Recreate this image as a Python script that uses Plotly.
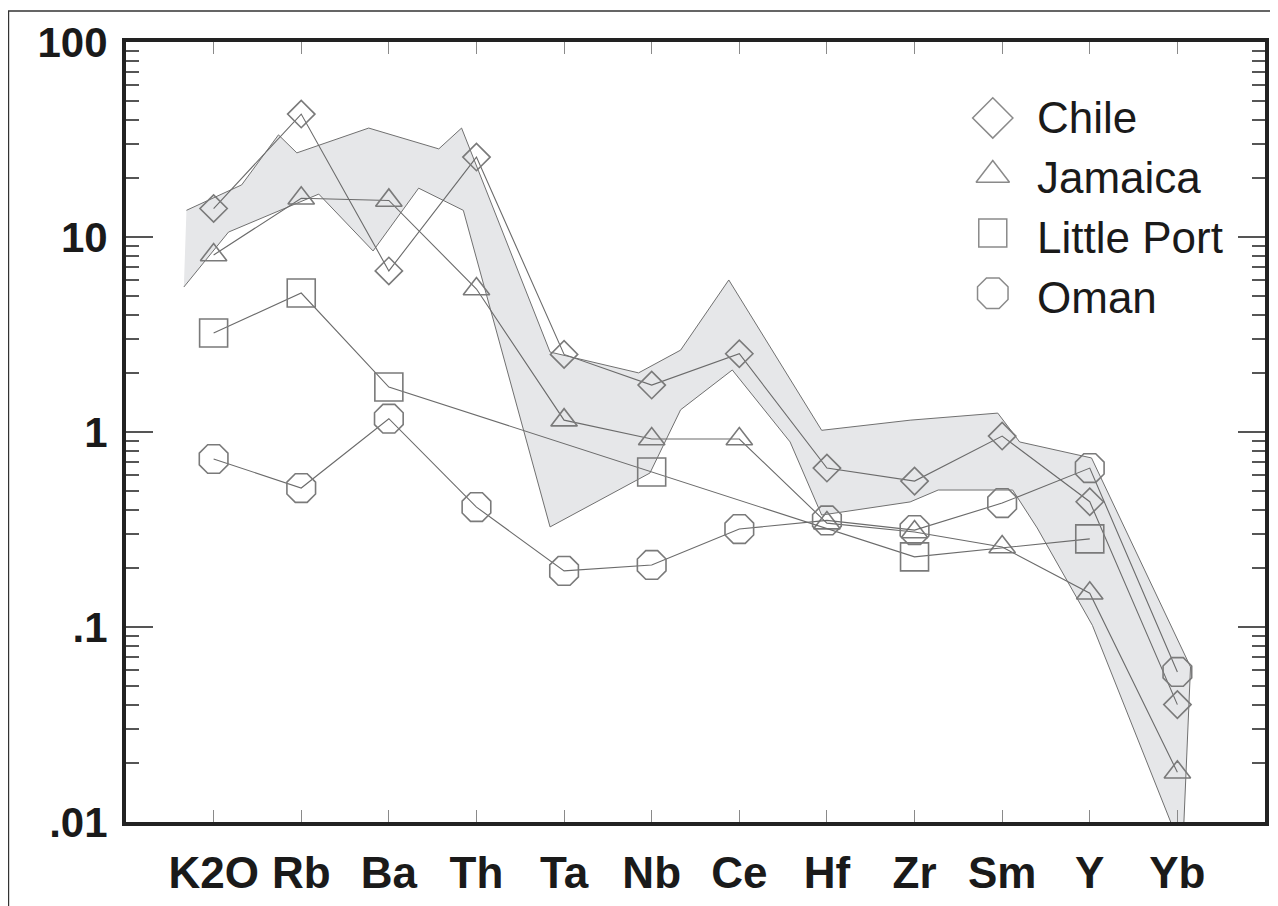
import plotly.graph_objects as go

# element order on the x axis
elements = ["K2O", "Rb", "Ba", "Th", "Ta", "Nb", "Ce", "Hf", "Zr", "Sm", "Y", "Yb"]

# normalised abundances (None = not plotted)
chile = [14.0, 42.7, 6.7, 25.7, 2.5, 1.74, 2.52, 0.653, 0.56, 0.953, 0.439, 0.040]
jamaica = [8.09, 15.8, 15.4, 5.41, 1.15, 0.92, 0.92, 0.341, 0.307, 0.257, 0.149, 0.018]
little_port = [3.22, 5.16, 1.70, None, None, 0.624, None, None, 0.229, None, 0.283, None]
oman = [0.727, 0.516, 1.17, 0.412, 0.194, 0.208, 0.318, 0.352, 0.314, 0.432, 0.653, 0.0588]

# shaded field: upper edge left->right, lower edge right->left (x in element units)
env_upper_pos = [-0.31, 0.32, 0.74, 0.95, 1.77, 2.57, 2.83, 3.84, 4.85, 5.33, 5.88,
                 6.94, 7.95, 8.95, 9.20, 10.02, 11.15, 11.06]
env_upper_val = [13.7, 18.5, 33.4, 27.0, 36.2, 28.3, 36.2, 2.57, 2.01, 2.63, 6.02,
                 1.02, 1.15, 1.25, 0.889, 0.736, 0.0624, 0.00702]
env_lower_pos = [10.03, 9.40, 9.12, 8.27, 7.95, 6.94, 6.58, 5.92, 5.33, 4.98, 3.84,
                 2.85, 2.34, 1.82, 1.20, 0.17, -0.34]
env_lower_val = [0.102, 0.322, 0.504, 0.504, 0.438, 0.375, 0.889, 2.08, 1.30, 0.616, 0.326,
                 13.7, 17.8, 8.48, 16.6, 10.6, 5.54]

y_tickvals = [0.01, 0.1, 1, 10, 100]
y_ticktext = [".01", ".1", "1", "10", "100"]

series = [
    ("Chile", chile, "diamond-open", 21, 31),
    ("Jamaica", jamaica, "triangle-up-open", 23, 29),
    ("Little Port", little_port, "square-open", 28, 28),
    ("Oman", oman, "octagon-open", 31, 33),
]

LINE = "#6b6b6b"
MARK = "#7a7a7a"
FONT = "Liberation Sans, Arial, sans-serif"

fig = go.Figure()

fig.add_trace(go.Scatter(
    x=env_upper_pos + env_lower_pos,
    y=env_upper_val + env_lower_val,
    mode="lines", fill="toself",
    fillcolor="#e6e7e9",
    line=dict(color="#707070", width=1),
    showlegend=False, hoverinfo="skip"))

xpos = list(range(len(elements)))
for name, vals, sym, size, _ in series:
    fig.add_trace(go.Scatter(
        x=xpos, y=vals, name=name, mode="lines+markers",
        connectgaps=True,
        line=dict(color=LINE, width=1.1),
        marker=dict(symbol=sym, size=size, color=MARK, line=dict(width=1.6)),
        showlegend=False))

# hand-drawn key (overlay axes 0..1 across the plot area)
key_sym_x = 0.761
key_txt_x = 0.798
key_sym_y = [0.9026, 0.8295, 0.755, 0.678]
key_txt_y = [0.9026, 0.826, 0.749, 0.672]
for i, (name, vals, sym, size, ksize) in enumerate(series):
    fig.add_trace(go.Scatter(
        x=[key_sym_x], y=[key_sym_y[i]], xaxis="x2", yaxis="y2",
        mode="markers", showlegend=False, hoverinfo="skip",
        marker=dict(symbol=sym, size=ksize, color="#8a8a8a", line=dict(width=1.5))))
    fig.add_annotation(
        x=key_txt_x, y=key_txt_y[i], xref="paper", yref="paper",
        text=name, showarrow=False, xanchor="left", yanchor="middle",
        font=dict(family=FONT, size=44, color="#1a1a1a"))

# page body adds an 8px margin, so the figure is 8px smaller than the window
fig.update_layout(
    width=1270, height=898,
    margin=dict(l=118, r=13, t=34, b=84, autoexpand=False),
    paper_bgcolor="white", plot_bgcolor="white",
    font=dict(family=FONT),
    xaxis=dict(
        range=[-1, 12], tickvals=xpos, ticktext=elements,
        showgrid=False, zeroline=False, automargin=False,
        ticks="inside", ticklen=12, tickwidth=1, tickcolor="#8a8a8a",
        showline=True, linewidth=4, linecolor="#222222", mirror="ticks",
        tickfont=dict(family=FONT, size=44, color="#1a1a1a", weight="bold"),
        ticklabelstandoff=9),
    yaxis=dict(
        type="log", range=[-2, 2], tickvals=y_tickvals, ticktext=y_ticktext,
        showgrid=False, zeroline=False, automargin=False,
        ticks="inside", ticklen=27, tickwidth=1.5, tickcolor="#555555",
        minor=dict(ticks="inside", ticklen=13, tickwidth=1.5, tickcolor="#555555",
                   dtick="D1", showgrid=False),
        showline=True, linewidth=4, linecolor="#222222", mirror="ticks",
        tickfont=dict(family=FONT, size=42, color="#1a1a1a", weight="bold"),
        ticklabelstandoff=6),
    xaxis2=dict(overlaying="x", range=[0, 1], visible=False),
    yaxis2=dict(overlaying="y", range=[0, 1], visible=False),
    shapes=[dict(type="rect", xref="paper", yref="paper",
                 x0=-0.1032, x1=1.05, y0=-0.15, y1=1.0397,
                 line=dict(color="#333333", width=1.5), layer="below")],
)

fig.write_html("out.html")
